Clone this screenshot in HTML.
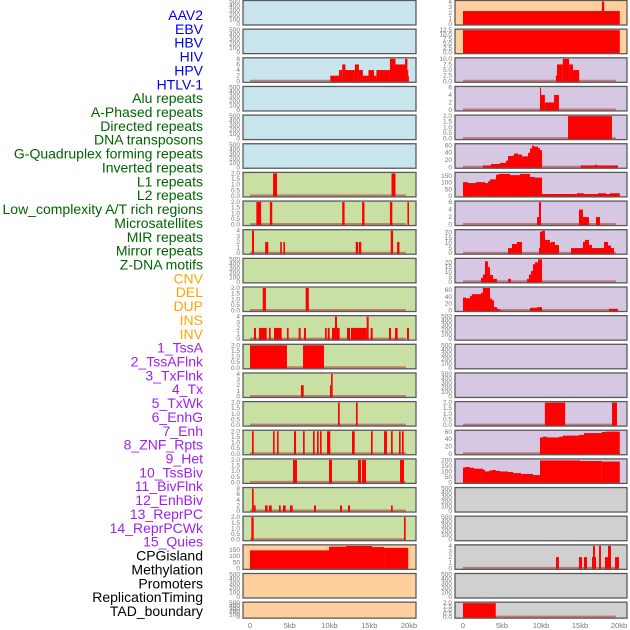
<!DOCTYPE html>
<html><head><meta charset="utf-8">
<style>
html,body{margin:0;padding:0;background:#fff;}
svg{display:block;font-family:"Liberation Sans",sans-serif;}
</style></head>
<body>
<svg id="chart" width="630" height="630" viewBox="0 0 630 630" xmlns="http://www.w3.org/2000/svg"></svg>
<script>
const rowLabels = ["AAV2","EBV","HBV","HIV","HPV","HTLV-1","Alu repeats","A-Phased repeats","Directed repeats","DNA transposons","G-Quadruplex forming repeats","Inverted repeats","L1 repeats","L2 repeats","Low_complexity A/T rich regions","Microsatellites","MIR repeats","Mirror repeats","Z-DNA motifs","CNV","DEL","DUP","INS","INV","1_TssA","2_TssAFlnk","3_TxFlnk","4_Tx","5_TxWk","6_EnhG","7_Enh","8_ZNF_Rpts","9_Het","10_TssBiv","11_BivFlnk","12_EnhBiv","13_ReprPC","14_ReprPCWk","15_Quies","CPGisland","Methylation","Promoters","ReplicationTiming","TAD_boundary"];
const rowColors = ["#0000ee","#0000ee","#0000ee","#0000ee","#0000ee","#0000ee","#006400","#006400","#006400","#006400","#006400","#006400","#006400","#006400","#006400","#006400","#006400","#006400","#006400","#ffa500","#ffa500","#ffa500","#ffa500","#ffa500","#a020f0","#a020f0","#a020f0","#a020f0","#a020f0","#a020f0","#a020f0","#a020f0","#a020f0","#a020f0","#a020f0","#a020f0","#a020f0","#a020f0","#a020f0","#000","#000","#000","#000","#000"];
const xTicks = [0,5,10,15,20];
const xTickLabels = ["0","5kb","10kb","15kb","20kb"];

const T500=[0,100,200,300,400,500], T2=[0,0.5,1.0,1.5,2.0], T4=[0,1,2,3,4], T8=[0,2,4,6,8], T60=[0,20,40,60];
// left column panels: fill, ymax, ticks, bars [startKb,endKb,value]
const leftFill = ["#c8e4ec","#c8e4ec","#c8e4ec","#c8e4ec","#c8e4ec","#c8e4ec","#c8e0a4","#c8e0a4","#c8e0a4","#c8e0a4","#c8e0a4","#c8e0a4","#c8e0a4","#c8e0a4","#c8e0a4","#c8e0a4","#c8e0a4","#c8e0a4","#c8e0a4","#ffcf9e","#ffcf9e","#ffcf9e"];
const leftYmax = [500,500,8,500,500,500,2,2,4,500,2,4,2,4,2,2,2,8,2,185,500,500];
const leftTicks = [T500,T500,T8,T500,T500,T500,T2,T2,T4,T500,T2,T4,T2,T4,T2,T2,T2,T8,T2,[0,50,100,150],T500,T500];
const leftBars = [
 [],[],
 [[10.1,11.2,2],[11.2,11.6,4],[11.6,12.0,6],[12.0,13.2,4],[13.2,13.7,6],[13.7,14.2,4],[14.2,14.9,2],[14.9,15.6,4],[15.6,15.9,2],[15.9,17.6,4],[17.6,18.3,8],[18.3,19.5,6],[19.5,19.8,8],[19.8,19.9,4],[19.9,20.0,2]],
 [],[],[],
 [[2.9,3.4,2],[17.8,18.3,2]],
 [[0.8,1.4,2],[2.5,2.8,2],[11.6,11.9,2],[14.1,14.4,2],[17.6,17.9,2],[19.8,20.0,2]],
 [[0.25,0.5,4],[1.9,2.3,2],[3.8,4.0,2],[4.2,4.4,2],[13.3,13.6,2],[13.7,14.0,2],[17.7,18.0,4],[18.5,18.8,2]],
 [],
 [[1.6,2.0,2],[7.0,7.4,2]],
 [[0.5,0.75,2],[1.13,2.1,2],[2.39,2.6,2],[3.02,3.98,2],[4.65,4.86,2],[6.12,6.37,2],[6.79,7.04,2],[9.43,9.64,2],[9.77,10.02,2],[10.31,10.69,2],[10.69,10.94,4],[10.94,11.28,2],[12.2,12.58,2],[12.7,14.34,2],[14.34,14.68,2],[14.68,14.93,4],[15.18,15.43,2],[17.48,17.74,2],[18.24,18.57,2],[19.75,20.0,2]],
 [[0,4.65,2],[6.67,9.31,2]],
 [[6.41,6.75,2],[10.06,10.2,2],[10.2,10.4,4]],
 [[11.07,11.28,2],[13.33,13.54,2]],
 [[0.25,0.46,2],[2.9,3.1,2],[3.4,3.6,2],[5.53,5.79,2],[6.67,6.88,2],[7.92,8.13,2],[8.43,8.64,2],[8.81,9.01,2],[9.69,10.1,2],[12.83,13.17,2],[15.22,15.43,2],[16.86,17.23,2],[17.74,17.95,2],[18.74,18.95,2],[19.12,19.33,2]],
 [[5.41,5.91,2],[9.94,10.31,2],[13.58,13.96,2],[14.09,14.59,2],[18.87,19.37,2]],
 [[0.25,0.46,8],[0.46,0.71,2],[1.89,2.22,2],[2.39,2.73,2],[3.65,3.86,2],[4.15,4.49,2],[5.03,5.37,2],[8.05,8.3,2],[11.32,11.57,2],[12.33,12.58,2],[17.74,17.95,2]],
 [[0.17,0.46,2],[19.37,19.58,2]],
 [[0,9.94,148],[9.94,12.08,178],[12.08,15.35,184],[15.35,16.86,175],[16.86,19.9,168]],
 [],[]
];

const rightFill = ["#ffcf9e","#ffcf9e","#d6c7e2","#d6c7e2","#d6c7e2","#d6c7e2","#d6c7e2","#d6c7e2","#d6c7e2","#d6c7e2","#d6c7e2","#d6c7e2","#d6c7e2","#d6c7e2","#d6c7e2","#d6c7e2","#d6c7e2","#d0d0d0","#d0d0d0","#d0d0d0","#d0d0d0","#d0d0d0"];
const rightYmax = [4,12.5,10,6,2,62,170,6,22,23,66,500,500,500,2,62,205,500,500,4,500,2];
const rightTicks = [T4,[0,2.5,5,7.5,10,12.5],[0,2.5,5,7.5,10],[0,2,4,6],T2,T60,[0,50,100,150],[0,2,4,6],[0,5,10,15,20],[0,5,10,15,20],T60,T500,T500,T500,T2,T60,[0,50,100,150,200],T500,T500,T4,T500,T2];
const rightBars = [
 [[0,20.1,2.3],[17.8,18.1,4]],
 [[0,20.1,12.5]],
 [[11.9,12.05,2.5],[12.05,12.8,7.5],[12.8,13.6,10],[13.6,14.1,7.5],[14.1,14.9,5]],
 [[9.87,10.0,6],[10.0,10.5,4],[10.5,11.67,2],[11.67,12.3,4]],
 [[13.46,19.1,2]],
 [[2.56,3.59,5],[3.59,4.74,9],[4.74,5.51,12],[5.51,5.77,18],[5.77,6.28,31],[6.28,6.54,32],[6.54,7.05,38],[7.05,7.56,35],[7.56,8.33,30],[8.33,8.59,40],[8.59,8.85,52],[8.85,9.1,60],[9.1,9.62,57],[9.62,9.87,53],[9.87,10.13,47],[15.09,16.92,5],[16.92,17.18,7],[17.18,19.87,5]],
 [[0,0.64,104],[0.64,1.67,97],[1.67,2.82,104],[2.82,3.2,97],[3.2,3.46,110],[3.46,4.23,125],[4.23,4.62,160],[4.62,6.03,166],[6.03,7.31,157],[7.31,8.59,166],[8.59,9.23,143],[9.23,10.13,138],[10.13,14.6,14],[14.6,15.5,20],[15.5,17.3,14],[17.3,18.33,20],[18.33,18.85,14],[18.85,20.1,20]],
 [[9.49,9.74,2],[9.74,10.0,6],[14.87,15.38,4],[15.38,16.15,2],[17.05,17.56,2]],
 [[5.77,6.28,5],[6.28,6.92,9],[6.92,7.56,11],[9.74,9.87,5],[9.87,10.13,21],[10.13,10.51,22],[10.51,11.15,13],[11.15,11.28,10],[11.28,11.79,11],[11.79,12.31,8],[13.85,15.38,5],[15.38,15.64,11],[15.64,16.15,13],[16.15,16.54,8],[16.54,18.08,5],[18.08,18.59,11],[18.59,18.97,7.5],[18.97,19.36,5]],
 [[2.31,2.56,4],[2.56,2.82,7.5],[2.82,3.2,21],[3.2,3.46,15],[3.46,3.85,7],[3.85,4.36,3],[5.77,6.15,3],[8.2,8.46,3],[8.46,8.72,7.5],[8.72,8.97,11],[8.97,9.23,18],[9.23,9.62,20],[9.62,10.13,23]],
 [[0,0.38,38],[0.38,0.9,36],[0.9,1.15,43],[1.15,2.31,48],[2.31,2.56,52],[2.56,3.46,66],[3.46,3.72,35],[3.72,3.97,30],[3.97,4.36,10],[4.36,4.62,5],[4.62,4.87,2],[8.59,9.49,8],[9.49,10.13,10],[18.72,19.87,5]],
 [],[],[],
 [[10.5,13.1,2],[19.1,19.74,2]],
 [[9.87,10.26,45],[10.26,10.77,47],[10.77,12.31,45],[12.31,12.82,47],[12.82,14.87,50],[14.87,15.51,52],[15.51,17.82,57],[17.82,18.33,60],[18.33,20.1,61]],
 [[0,0.26,135],[0.26,0.9,140],[0.9,1.41,133],[1.41,2.56,125],[2.56,2.82,115],[2.82,3.33,100],[3.33,3.72,108],[3.72,4.23,113],[4.23,4.74,105],[4.74,5.77,100],[5.77,6.41,95],[6.41,7.44,85],[7.44,8.97,77],[8.97,9.87,67],[9.87,15.0,200],[15.0,17.8,195],[17.8,20.1,190]],
 [],[],
 [[11.92,12.3,2],[14.87,15.26,2],[15.51,15.9,2],[16.54,17.05,2],[16.67,16.92,4],[17.44,17.69,4],[18.2,18.97,2],[18.59,18.97,4],[19.49,20.0,2]],
 [],
 [[0,4.2,2]]
];

const NS="http://www.w3.org/2000/svg";
const svg=document.getElementById('chart');
function mk(tag,attrs,parent){const e=document.createElementNS(NS,tag);for(const k in attrs)e.setAttribute(k,attrs[k]);(parent||svg).appendChild(e);return e;}

// labels
rowLabels.forEach((t,i)=>{
  const e=mk('text',{x:203,y:15+i*13.86+5,'text-anchor':'end','font-size':'14',fill:rowColors[i]});
  
  
  e.textContent=t;
});

const cols=[
 {name:'left',x0:243,x1:416,d0:250,d1:409,fill:leftFill,ymax:leftYmax,ticks:leftTicks,bars:leftBars},
 {name:'right',x0:455,x1:627,d0:463,d1:619,fill:rightFill,ymax:rightYmax,ticks:rightTicks,bars:rightBars}
];
const pitch=28.65;
cols.forEach(c=>{
  const xs=kb=>c.d0+(c.d1-c.d0)*kb/20;
  for(let i=0;i<22;i++){
    const top=i*pitch+0.5, h=(i===21)?16:24.5, bot=top+h;
    const g=mk('g',{});
    
    
    mk('rect',{x:c.x0,y:top,width:c.x1-c.x0,height:h,fill:c.fill[i]},g);
    const ys=v=>bot-1-(h-2)*v/c.ymax[i];
    if(c.bars[i].length){
      const zl=mk('line',{x1:xs(0),x2:xs(19.6),y1:bot-1.5,y2:bot-1.5,stroke:'#b04040','stroke-opacity':'0.6','stroke-width':'2'},g);
      
      
    }
    c.bars[i].forEach(b=>{
      const r=mk('rect',{x:xs(b[0]),y:ys(b[2]),width:Math.max(0.8,xs(b[1])-xs(b[0])),height:bot-0.5-ys(b[2]),fill:'#ff0000'},g);
      
      
    });
    mk('rect',{x:c.x0,y:top,width:c.x1-c.x0,height:h,fill:'none',stroke:'#5a5a5a','stroke-width':'1.3'},g);
    c.ticks[i].forEach(t=>{
      const tx=mk('text',{x:c.x0-3,y:ys(t)+2,'text-anchor':'end','font-size':'6.5',fill:'#777'},g);
      
      
      tx.textContent=(c.ticks[i].some(v=>v%1!==0))?t.toFixed(1):String(t);
    });
  }
  xTicks.forEach((t,j)=>{
    const tx=mk('text',{x:xs(t),y:628,'text-anchor':'middle','font-size':'7.5',fill:'#777'});
    
    
    tx.textContent=xTickLabels[j];
  });
});
</script>
</body></html>
